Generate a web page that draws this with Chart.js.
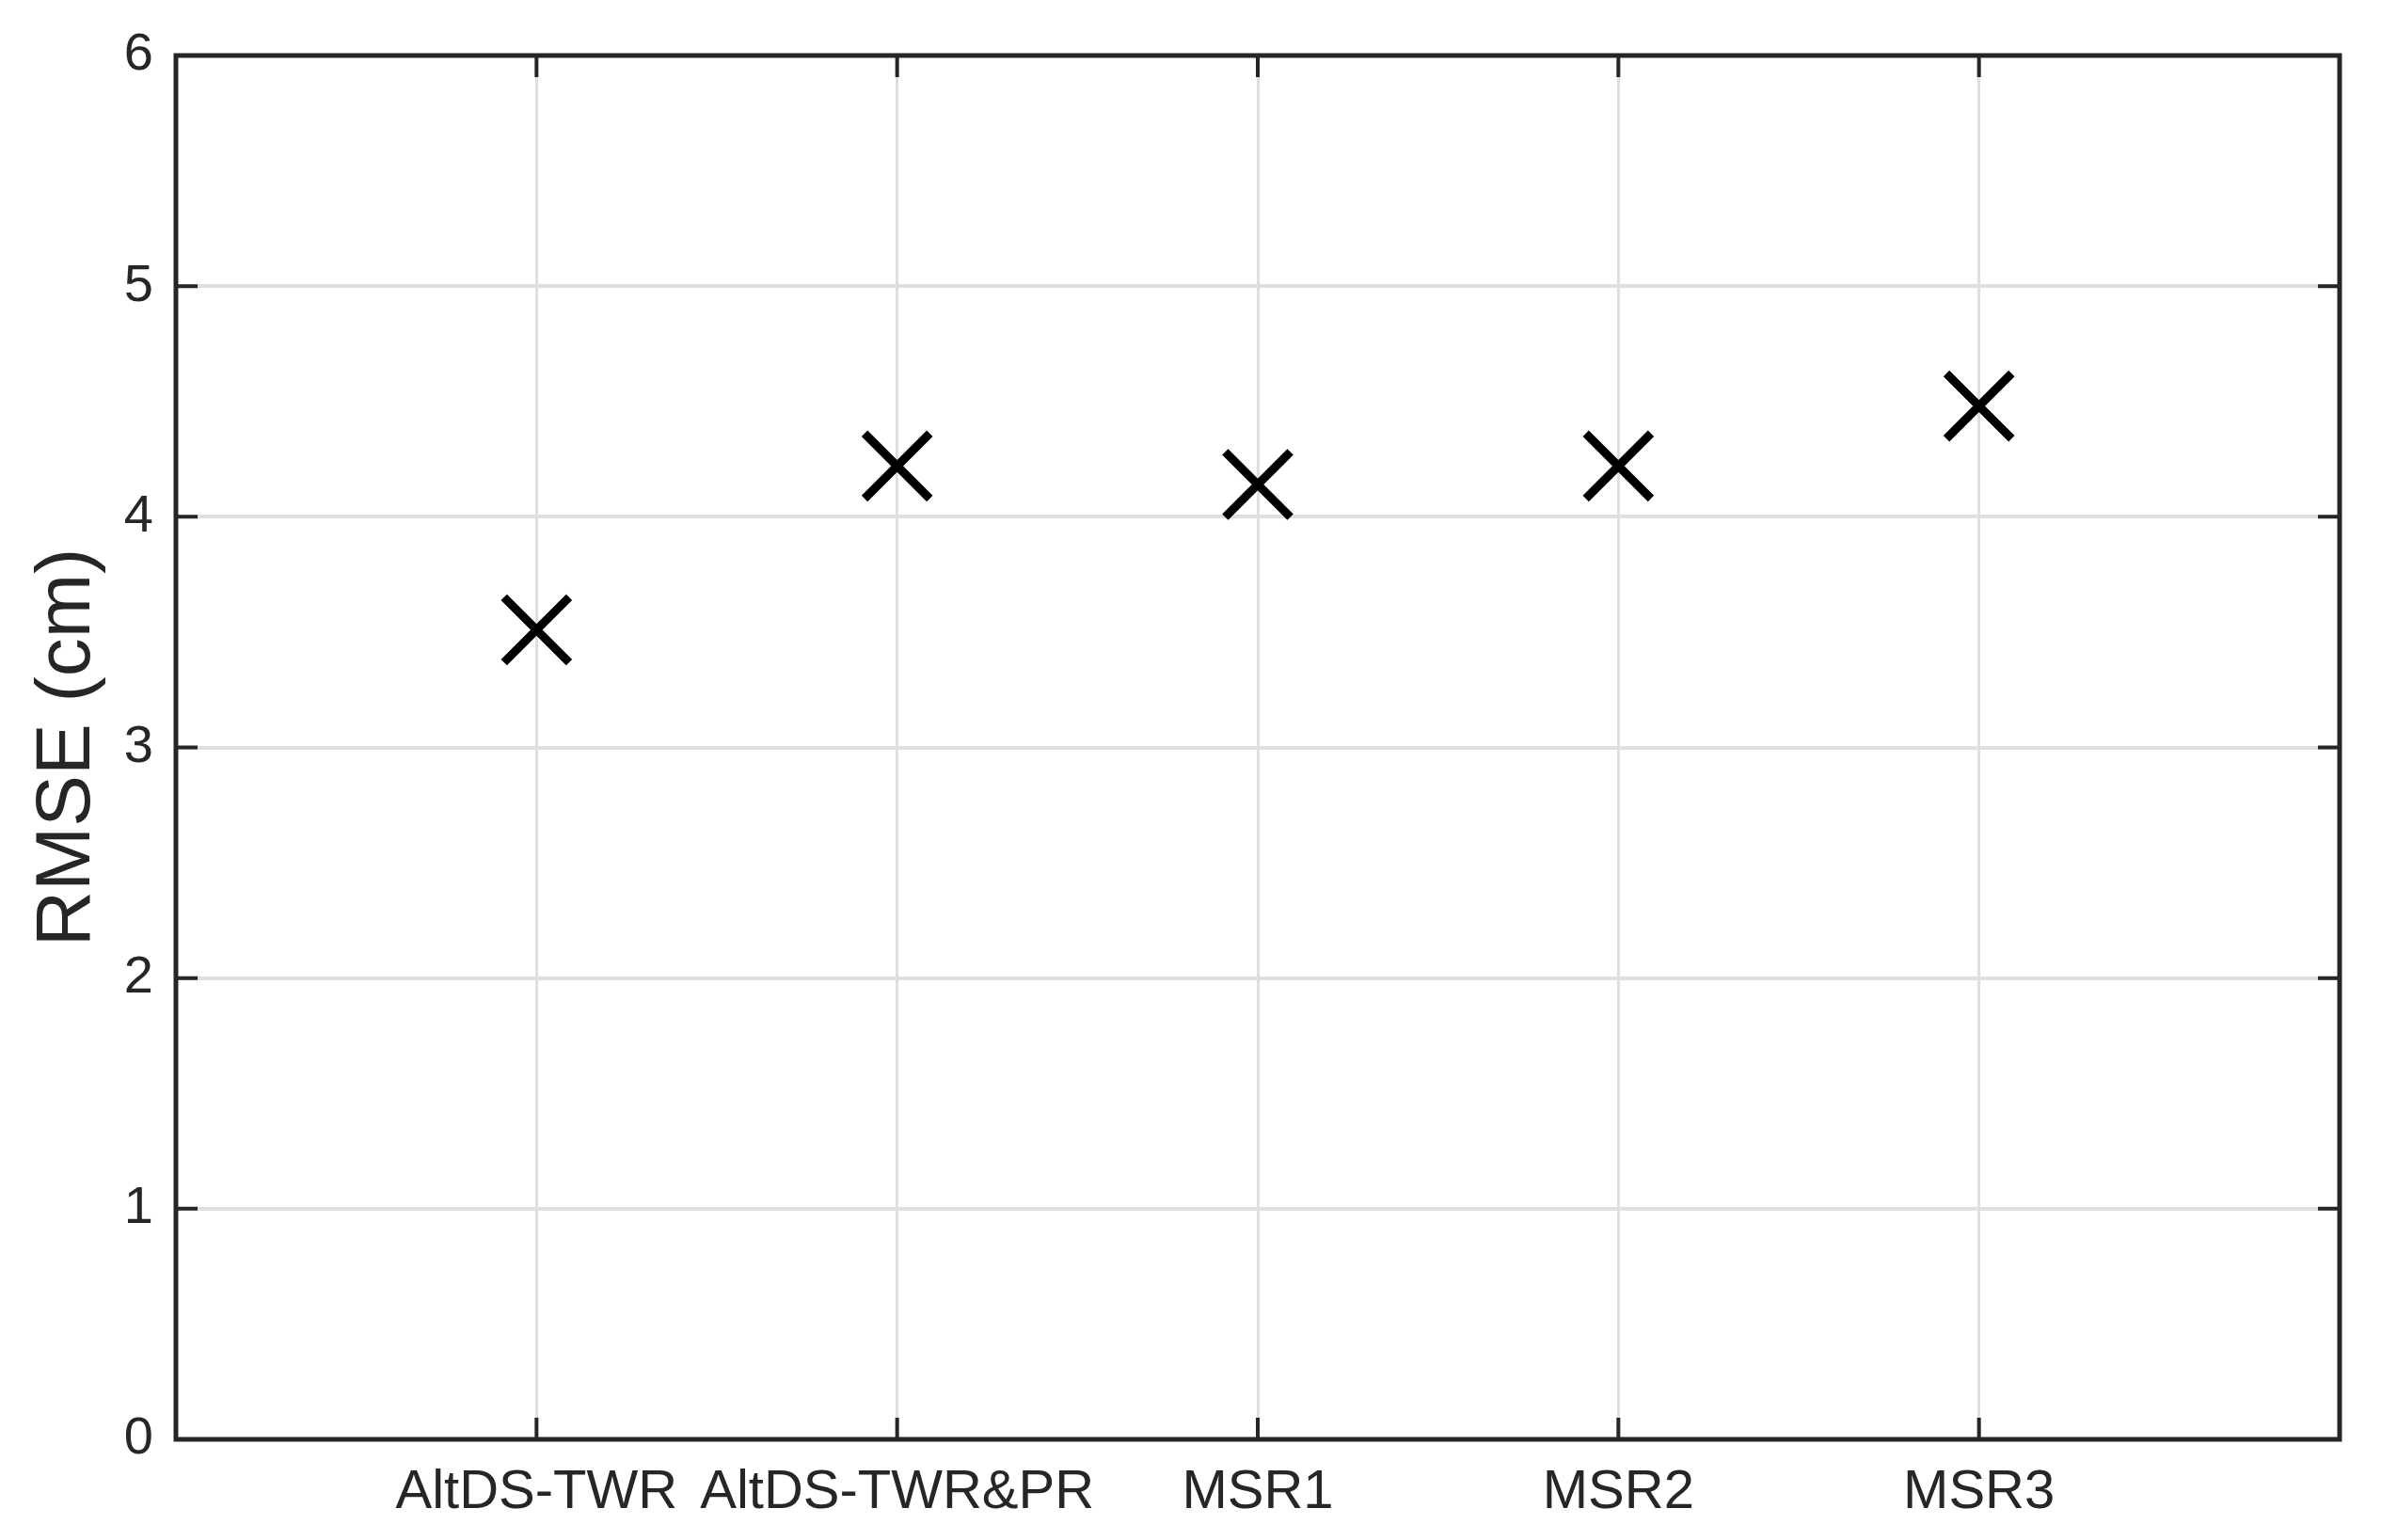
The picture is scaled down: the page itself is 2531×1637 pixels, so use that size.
<!DOCTYPE html>
<html>
<head>
<meta charset="utf-8">
<script src="https://cdn.jsdelivr.net/npm/chart.js@4/dist/chart.umd.min.js"></script>
<style>
  html, body { margin: 0; padding: 0; background: #fff; overflow: hidden; }
  #wrap { width: 2531px; height: 1637px; }
</style>
</head>
<body>
<div id="wrap"><canvas id="myChart"></canvas></div>
<script>
// data
const methods = ['AltDS-TWR', 'AltDS-TWR&PR', 'MSR1', 'MSR2', 'MSR3'];
const methodPos = [1, 2, 3, 4, 5];
const rmse = [3.51, 4.22, 4.14, 4.22, 4.48];
const yTicks = [0, 1, 2, 3, 4, 5, 6];

const axisColor = '#262626';
const gridColor = '#dfdfdf';
const fontFamily = '"Liberation Sans", Arial, Helvetica, sans-serif';

// matlab style inward ticks on all four sides of the box
const innerTicks = {
    id: 'innerTicks',
    afterDraw(chart) {
        const ctx = chart.ctx;
        const area = chart.chartArea;
        const xs = chart.scales.x;
        const ys = chart.scales.y;
        const len = 23;
        ctx.save();
        ctx.strokeStyle = axisColor;
        ctx.lineWidth = 4;
        ctx.beginPath();
        methodPos.forEach(v => {
            const px = xs.getPixelForValue(v);
            ctx.moveTo(px, area.bottom);
            ctx.lineTo(px, area.bottom - len);
            ctx.moveTo(px, area.top);
            ctx.lineTo(px, area.top + len);
        });
        yTicks.forEach(v => {
            const py = ys.getPixelForValue(v);
            ctx.moveTo(area.left, py);
            ctx.lineTo(area.left + len, py);
            ctx.moveTo(area.right, py);
            ctx.lineTo(area.right - len, py);
        });
        ctx.stroke();
        // box
        ctx.lineWidth = 5;
        ctx.strokeRect(area.left, area.top, area.right - area.left, area.bottom - area.top);
        ctx.restore();
    }
};

document.addEventListener('DOMContentLoaded', function () {
    const ctx = document.getElementById('myChart').getContext('2d');
    new Chart(ctx, {
        type: 'scatter',
        data: {
            datasets: [{
                label: 'RMSE',
                data: methodPos.map((x, i) => ({ x: x, y: rmse[i] })),
                pointStyle: 'crossRot',
                pointRadius: 49,
                pointHoverRadius: 49,
                pointBorderWidth: 9,
                pointHoverBorderWidth: 9,
                borderColor: '#000',
                backgroundColor: '#000',
                clip: false
            }]
        },
        options: {
            responsive: true,
            maintainAspectRatio: false,
            animation: false,
            events: [],
            layout: {
                autoPadding: false,
                padding: { top: 59, right: 44, left: 0, bottom: 0 }
            },
            plugins: {
                legend: { display: false },
                tooltip: { enabled: false }
            },
            scales: {
                x: {
                    type: 'linear',
                    min: 0,
                    max: 6,
                    afterBuildTicks: scale => {
                        scale.ticks = methodPos.map(v => ({ value: v }));
                    },
                    afterFit: scale => {
                        scale.height = 107;
                        scale.paddingLeft = 0;
                        scale.paddingRight = 0;
                    },
                    ticks: {
                        callback: (v) => methods[methodPos.indexOf(v)] || '',
                        font: { family: fontFamily, size: 58 },
                        color: axisColor,
                        padding: 22,
                        maxRotation: 0,
                        autoSkip: false
                    },
                    grid: {
                        color: gridColor,
                        lineWidth: 3,
                        drawTicks: false
                    },
                    border: { display: false }
                },
                y: {
                    min: 0,
                    max: 6,
                    afterBuildTicks: scale => {
                        scale.ticks = yTicks.map(v => ({ value: v }));
                    },
                    afterFit: scale => {
                        scale.width = 187;
                        scale.paddingTop = 0;
                        scale.paddingBottom = 0;
                    },
                    ticks: {
                        font: { family: fontFamily, size: 56 },
                        color: axisColor,
                        padding: 24
                    },
                    grid: {
                        color: gridColor,
                        lineWidth: 4,
                        drawTicks: false
                    },
                    border: { display: false },
                    title: {
                        display: true,
                        text: 'RMSE (cm)',
                        font: { family: fontFamily, size: 82 },
                        color: axisColor,
                        padding: { top: 23, bottom: 0 }
                    }
                }
            }
        },
        plugins: [innerTicks]
    });
});
</script>
</body>
</html>
